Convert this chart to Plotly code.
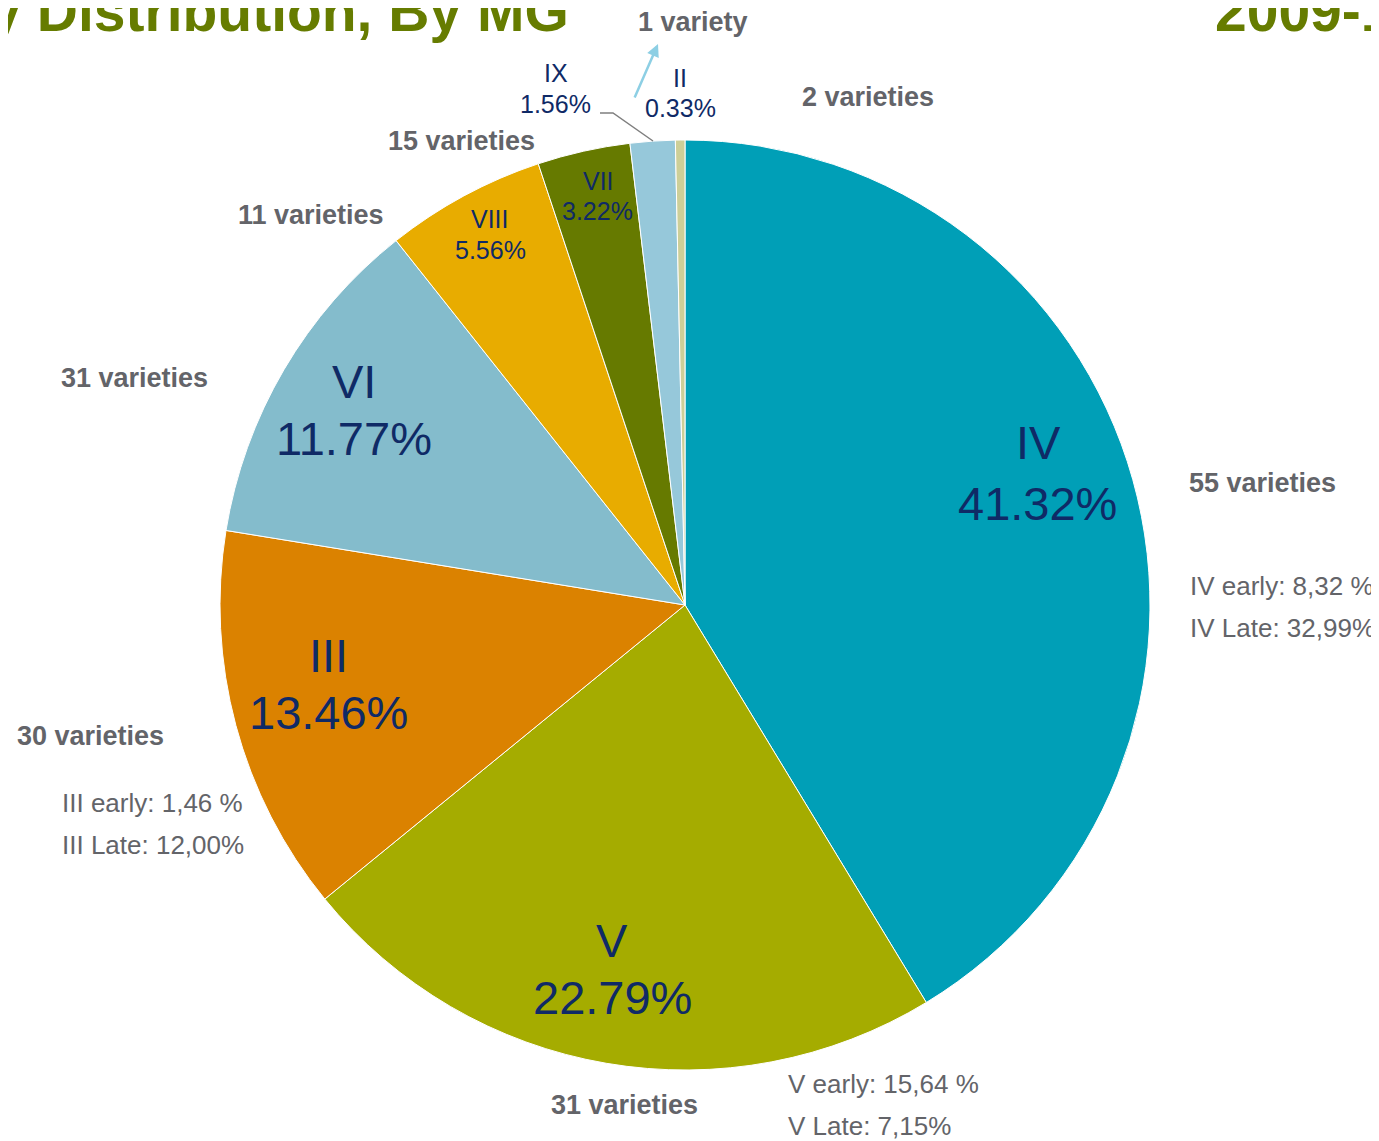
import plotly.graph_objects as go

# --- data ---
groups = ['IV', 'V', 'III', 'VI', 'VIII', 'VII', 'IX', 'II']
shares = [41.32, 22.79, 13.46, 11.77, 5.56, 3.22, 1.56, 0.33]
colors = ['#009FB7', '#A5AC00', '#DB8200', '#84BCCC', '#E8AC00', '#667A00', '#96C8DA', '#CDCF98']
variety_counts = ['55 varieties', '31 varieties', '30 varieties', '31 varieties',
                  '11 varieties', '15 varieties', '2 varieties', '1 variety']
splits = {
    'IV': ['IV early: 8,32 %', 'IV Late: 32,99%'],
    'V': ['V early: 15,64 %', 'V Late: 7,15%'],
    'III': ['III early: 1,46 %', 'III Late: 12,00%'],
}

W, H = 1379, 1141
OFF = 8  # page body margin, positions below are screen pixels
FONT = 'Liberation Sans, Arial, sans-serif'
NAVY = '#0F2A66'
GREY = '#636469'
OLIVE = '#667C00'

def px(x):
    return (x - OFF) / W

def py(y):
    return 1 - (y - OFF) / H

# pie centre (685, 605), radius 465 px
cx, cy, r = 685, 605, 465

fig = go.Figure(go.Pie(
    labels=groups,
    values=shares,
    sort=False,
    direction='clockwise',
    rotation=0,
    marker=dict(colors=colors, line=dict(color='white', width=1)),
    textinfo='none',
    hoverinfo='label+value',
    domain=dict(x=[px(cx - r), px(cx + r)], y=[py(cy + r), py(cy - r)]),
))

ann = []

def label(text, x, y, size, color=NAVY, bold=False, anchor='center'):
    if bold:
        text = '<b>' + text + '</b>'
    ann.append(dict(text=text, x=px(x), y=py(y), xref='paper', yref='paper',
                    xanchor=anchor, yanchor='middle', showarrow=False,
                    font=dict(family=FONT, size=size, color=color)))

# slice labels: (name centre, share centre, font size)
slice_pos = {
    'IV': ((1038, 443), (1037, 503), 47),
    'V': ((612, 940), (612, 997), 47),
    'III': ((328, 655), (328, 712), 47),
    'VI': ((354, 381), (354, 438), 47),
    'VIII': ((490, 219), (490, 250), 25),
    'VII': ((598, 181), (597, 211), 25),
    'IX': ((556, 73), (555, 104), 25),
    'II': ((680, 78), (680, 108), 25),
}
for g, s in zip(groups, shares):
    (nx, ny), (sx, sy), size = slice_pos[g]
    label(g, nx, ny, size)
    label(f'{s:.2f}%', sx, sy, size)

# variety counts
count_pos = {'IV': (1262, 483), 'V': (624, 1105), 'III': (90, 736), 'VI': (134, 378),
             'VIII': (311, 215), 'VII': (461, 141), 'IX': (868, 97), 'II': (693, 22)}
for g, c in zip(groups, variety_counts):
    x, y = count_pos[g]
    label(c, x, y, 27, color=GREY, bold=True)

# early / late split
split_pos = {'IV': (1188, 586), 'III': (60, 803), 'V': (786, 1084)}
for g, lines in splits.items():
    x, y = split_pos[g]
    for i, t in enumerate(lines):
        label(t, x, y + i * 42, 26, color=GREY, anchor='left')

# arrow to the tiny MG II slice
ann.append(dict(text='', x=px(658), y=py(44), xref='paper', yref='paper',
                showarrow=True, ax=-24, ay=55, arrowhead=2, arrowsize=1,
                arrowwidth=2.5, arrowcolor='#8DCFE4'))

# cropped title
ann.append(dict(text='<b>Variety Distribution, By MG</b>', x=px(571), y=py(11),
                xref='paper', yref='paper', xanchor='right', yanchor='middle',
                showarrow=False, font=dict(family=FONT, size=57, color=OLIVE)))
ann.append(dict(text='<b>2009-10</b>', x=px(1213), y=py(11),
                xref='paper', yref='paper', xanchor='left', yanchor='middle',
                showarrow=False, font=dict(family=FONT, size=57, color=OLIVE)))

fig.update_layout(
    width=W,
    height=H,
    margin=dict(l=0, r=0, t=0, b=0),
    paper_bgcolor='white',
    showlegend=False,
    annotations=ann,
    shapes=[dict(type='path', xref='paper', yref='paper',
                 path=f'M {px(600)},{py(113)} L {px(613)},{py(113)} L {px(653)},{py(141)}',
                 line=dict(color='#7F7F7F', width=1.5))],
)

fig.write_html('out.html')
